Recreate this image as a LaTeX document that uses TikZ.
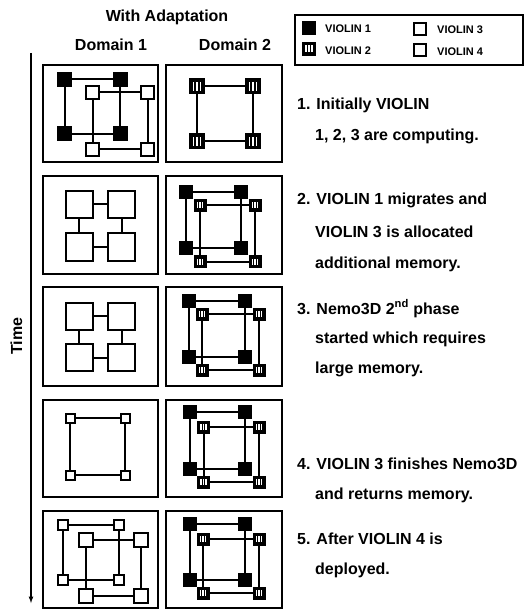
\documentclass[tikz,border=0pt]{standalone}
\usepackage{fontspec}
\setmainfont{Liberation Sans}
\usetikzlibrary{calc,arrows}

\tikzset{
  panel/.style={draw, line width=2pt},
  wire/.style={line width=2pt},
  vone/.style={draw, fill=black, line width=1pt, inner sep=0pt, minimum size=#1},
  vthree/.style={draw, fill=white, line width=2pt, inner sep=0pt, minimum size=#1},
  vtwo/.style={draw, fill=black, line width=1pt, inner sep=0pt, minimum size=#1,
    path picture={
      \foreach \f in {0.28,0.5,0.72}
        \fill[white] ($(path picture bounding box.south west)!\f!(path picture bounding box.south east)+(-0.7pt,3pt)$)
          rectangle ($(path picture bounding box.north west)!\f!(path picture bounding box.north east)+(0.7pt,-3pt)$);
    }},
  note/.style={font=\bfseries\fontsize{16}{19}\selectfont, inner sep=0pt},
  key/.style={font=\bfseries\fontsize{11}{13}\selectfont, inner sep=0pt, anchor=base west},
}

% four machines of one VIOLIN: name, kind, size, x, y, dx, dy
\newcommand{\vring}[7]{%
  \node[#2=#3] (#1tl) at (#4,#5) {};
  \node[#2=#3] (#1tr) at ({#4+#6},#5) {};
  \node[#2=#3] (#1bl) at (#4,{#5+#7}) {};
  \node[#2=#3] (#1br) at ({#4+#6},{#5+#7}) {};
}
\newcommand{\vlinks}[2]{%
  \draw[#2] (#1tl) -- (#1tr) (#1tr) -- (#1br) (#1br) -- (#1bl) (#1bl) -- (#1tl);
}

\begin{document}
\begin{tikzpicture}[x=1pt,y=-1pt]
\useasboundingbox (0,0) rectangle (524,609);

% headings
\node[note, anchor=base] (head) at (167,22) {With Adaptation};
\node[note, anchor=base] (dom1) at (111,51) {Domain 1};
\node[note, anchor=base] (dom2) at (235,51) {Domain 2};

% time axis
\coordinate (tstart) at (31,53);
\coordinate (tend) at (31,603);
\draw[-latex, line width=1.2pt] (tstart) -- (tend);
\node[note, rotate=90, anchor=base] (time) at (22,336) {Time};

% legend
\draw[line width=1.2pt] (295,15) rectangle (523,65);
\node[vone=13pt] (k1) at (309,28) {};
\node[vtwo=13pt] (k2) at (309,49) {};
\node[vthree=12pt, line width=1.4pt] (k3) at (420,29) {};
\node[vthree=12pt, line width=1.4pt] (k4) at (420,50) {};
\node[key] (k1t) at (325,33) {VIOLIN 1};
\node[key] (k2t) at (325,55) {VIOLIN 2};
\node[key] (k3t) at (437,34) {VIOLIN 3};
\node[key] (k4t) at (437,56) {VIOLIN 4};

% panels
\foreach \y/\h in {65/97,176/98,287/99,400/97,511/97} {
  \draw[panel] (43,\y) rectangle (158,\y+\h);
  \draw[panel] (166,\y) rectangle (282,\y+\h);
}

% step 1
\vring{aa}{vone}{14pt}{64.5}{79.5}{55.5}{54.5}
\vring{ab}{vthree}{13pt}{92.5}{92.5}{55}{57}
\vlinks{aa}{wire}
\vlinks{ab}{wire}
\vring{ba}{vtwo}{15pt}{197}{86.5}{56}{55}
\vlinks{ba}{wire}

% step 2
\vring{ac}{vthree}{27pt}{79}{204.5}{42.5}{42.5}
\vlinks{ac}{wire}
\vring{bb}{vone}{13pt}{186}{192.5}{54.5}{55.5}
\vring{bc}{vtwo}{12pt}{200}{205.5}{55}{56}
\vlinks{bb}{wire}
\vlinks{bc}{wire}

% step 3
\vring{ad}{vthree}{27pt}{79}{316}{42.5}{41.5}
\vlinks{ad}{wire}
\vring{bd}{vone}{13pt}{188.5}{300.5}{56.5}{56}
\vring{be}{vtwo}{12pt}{202}{314}{57}{56}
\vlinks{bd}{wire}
\vlinks{be}{wire}

% step 4
\vring{ae}{vthree}{9pt}{70}{418}{55}{57}
\vlinks{ae}{wire}
\vring{bf}{vone}{13pt}{189.5}{412}{55.5}{56.5}
\vring{bg}{vtwo}{12pt}{203.5}{427}{55.5}{55}
\vlinks{bf}{wire}
\vlinks{bg}{wire}

% step 5
\vring{af}{vthree}{10pt}{63}{524.5}{55.5}{55.5}
\vring{ag}{vthree}{14pt}{86}{540}{55}{55.5}
\vlinks{af}{wire}
\vlinks{ag}{wire}
\vring{bh}{vone}{13pt}{189.5}{524}{55.5}{56}
\vring{bi}{vtwo}{12pt}{203}{539}{56}{54}
\vlinks{bh}{wire}
\vlinks{bi}{wire}

% step notes
\node[note, anchor=base west] (s1a) at (297,110) {1. Initially VIOLIN};
\node[note, anchor=base west] (s1b) at (315,141) {1, 2, 3 are computing.};
\node[note, anchor=base west] (s2a) at (297,205) {2. VIOLIN 1 migrates and};
\node[note, anchor=base west] (s2b) at (315,237) {VIOLIN 3 is allocated};
\node[note, anchor=base west] (s2c) at (315,268) {additional memory.};
\node[note, anchor=base west] (s3a) at (297,314) {3. Nemo3D 2\textsuperscript{nd} phase};
\node[note, anchor=base west] (s3b) at (315,343) {started which requires};
\node[note, anchor=base west] (s3c) at (315,373) {large memory.};
\node[note, anchor=base west] (s4a) at (297,469) {4. VIOLIN 3 finishes Nemo3D};
\node[note, anchor=base west] (s4b) at (315,499) {and returns memory.};
\node[note, anchor=base west] (s5a) at (297,544) {5. After VIOLIN 4 is};
\node[note, anchor=base west] (s5b) at (315,574) {deployed.};
\end{tikzpicture}
\end{document}
